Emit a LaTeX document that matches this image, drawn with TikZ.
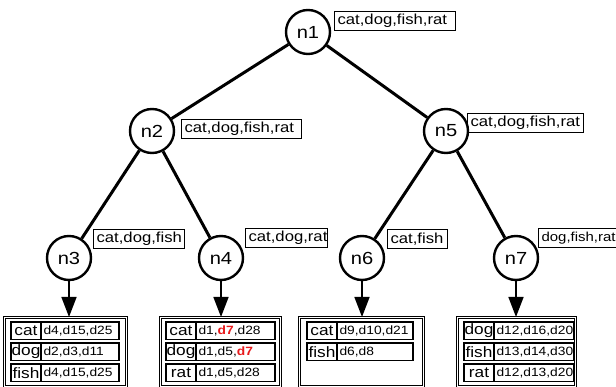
\documentclass[tikz,border=0pt]{standalone}
\usepackage{fontspec}
\setmainfont[FakeStretch=1.15]{Liberation Sans}
\usepackage{tikz}
\usetikzlibrary{arrows.meta,positioning}
\definecolor{hit}{HTML}{E8191B}
\newcommand{\hitdoc}[1]{\textcolor{hit}{\textbf{#1}}}

\begin{document}
\begin{tikzpicture}[x=1pt, y=-1pt,
  vtx/.style={circle, draw, line width=2.4pt, minimum size=44pt, inner sep=0pt,
              font=\fontsize{17.5}{17}\selectfont},
  terms/.style={draw, line width=1.2pt, anchor=north west, minimum height=19pt,
                inner xsep=3pt, inner ysep=0pt, align=left, font=\fontsize{14.5}{15}\selectfont},
  plist/.style={draw, double, double distance=1.1pt, line width=1.1pt, anchor=north west,
                minimum height=69pt, inner sep=0pt},
  keycell/.style={draw, line width=1.4pt, outer sep=0pt, anchor=north west, minimum width=30pt,
                  minimum height=17.5pt, inner sep=0pt, font=\fontsize{15}{15}\selectfont},
  postcell/.style={draw, line width=1.4pt, outer sep=0pt, minimum height=17.5pt, inner xsep=2.5pt,
                   inner ysep=0pt, align=left, font=\fontsize{12}{12}\selectfont},
  edge/.style={line width=3pt},
  arr/.style={-{Triangle[length=20pt,width=15pt]}, line width=1.5pt}
]
\useasboundingbox (0,0) rectangle (616,387);
\clip (0,0) rectangle (616,387);

% tree
\node[vtx] (n1) at (308,32) {n1};
\node[vtx] (n2) at (152,131) {n2};
\node[vtx] (n5) at (446,131) {n5};
\node[vtx] (n3) at (69,258) {n3};
\node[vtx] (n4) at (221,258) {n4};
\node[vtx] (n6) at (362,258) {n6};
\node[vtx] (n7) at (516,258) {n7};
\draw[edge] (n1) -- (n2); \draw[edge] (n1) -- (n5);
\draw[edge] (n2) -- (n3); \draw[edge] (n2) -- (n4);
\draw[edge] (n5) -- (n6); \draw[edge] (n5) -- (n7);

% term sets
\node[terms, text width=115pt] (l1) at (334,11) {cat,dog,fish,rat};
\node[terms, text width=114pt] (l2) at (181,119) {cat,dog,fish,rat};
\node[terms, text width=110pt] (l5) at (467,113) {cat,dog,fish,rat};
\node[terms, text width=85pt] (l3) at (93,229) {cat,dog,fish};
\node[terms, text width=76pt] (l4) at (245,228) {cat,dog,rat};
\node[terms, text width=54pt] (l6) at (387,229) {cat,fish};
\node[terms, text width=85pt, font=\fontsize{13}{15}\selectfont] (l7) at (538,228) {dog,fish,rat};

% posting lists
\node[plist, minimum width=122pt] (p3) at (4,317) {};
\node[keycell] (k31) at (11,322) {cat};
\node[postcell, text width=73pt, right=0pt of k31] (v31) {d4,d15,d25};
\node[keycell, below=3.5pt of k31] (k32) {dog};
\node[postcell, text width=73pt, right=0pt of k32] (v32) {d2,d3,d11};
\node[keycell, below=3.5pt of k32] (k33) {fish};
\node[postcell, text width=73pt, right=0pt of k33] (v33) {d4,d15,d25};

\node[plist, minimum width=120pt] (p4) at (160,317) {};
\node[keycell] (k41) at (166,322) {cat};
\node[postcell, text width=74pt, right=0pt of k41] (v41) {d1,\hitdoc{d7},d28};
\node[keycell, below=3.5pt of k41] (k42) {dog};
\node[postcell, text width=74pt, right=0pt of k42] (v42) {d1,d5,\hitdoc{d7}};
\node[keycell, below=3.5pt of k42] (k43) {rat};
\node[postcell, text width=74pt, right=0pt of k43] (v43) {d1,d5,d28};

\node[plist, minimum width=124pt] (p6) at (299,317) {};
\node[keycell] (k61) at (307,322) {cat};
\node[postcell, text width=71pt, right=0pt of k61] (v61) {d9,d10,d21};
\node[keycell, below=3.5pt of k61] (k62) {fish};
\node[postcell, text width=71pt, right=0pt of k62] (v62) {d6,d8};

\node[plist, minimum width=118pt] (p7) at (457,317) {};
\node[keycell] (k71) at (464,322) {dog};
\node[postcell, text width=75pt, right=0pt of k71] (v71) {d12,d16,d20};
\node[keycell, below=3.5pt of k71] (k72) {fish};
\node[postcell, text width=75pt, right=0pt of k72] (v72) {d13,d14,d30};
\node[keycell, below=3.5pt of k72] (k73) {rat};
\node[postcell, text width=75pt, right=0pt of k73] (v73) {d12,d13,d20};

\draw[arr] (n3) -- (n3 |- p3.north);
\draw[arr] (n4) -- (n4 |- p4.north);
\draw[arr] (n6) -- (n6 |- p6.north);
\draw[arr] (n7) -- (n7 |- p7.north);
\end{tikzpicture}
\end{document}
